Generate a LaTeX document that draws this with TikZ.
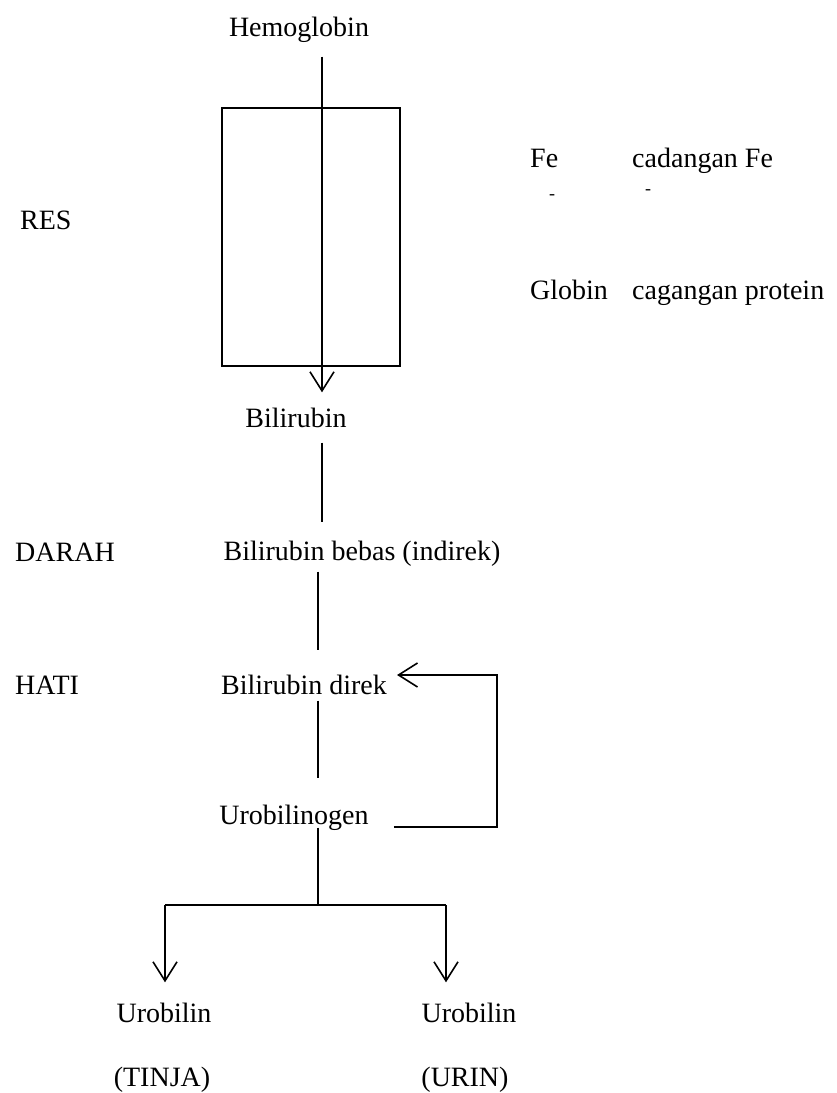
\documentclass[tikz,border=0pt]{standalone}
\usepackage{fontspec}
\setmainfont{Liberation Serif}
\usetikzlibrary{arrows.meta}
\begin{document}
\begin{tikzpicture}[x=1pt,y=-1pt,>={Straight Barb[length=19pt,width=24pt]},
   lbl/.style={inner sep=0pt,text height=22pt,text depth=3pt,font=\fontsize{28}{30}\selectfont},
   ln/.style={line width=1.6pt}]
   \useasboundingbox (0,0) rectangle (837,1093);
   \coordinate (spine) at (322,0);
   \coordinate (spine2) at (318,0);
   \coordinate (loop) at (497,0);
   %left labels
   \node[lbl,anchor=west] (res) at (20,220) {RES};
   \node[lbl,anchor=west] (darah) at (15,552) {DARAH};
   \node[lbl,anchor=west] (hati) at (15,685) {HATI};
   %right labels
   \node[lbl,anchor=west] (fe) at (530,158) {Fe};
   \node[lbl,anchor=west] (cadfe) at (632,158) {cadangan Fe};
   \node[inner sep=0pt,font=\fontsize{18}{18}\selectfont] (dash1) at (552,197) {-};
   \node[inner sep=0pt,font=\fontsize{18}{18}\selectfont] (dash2) at (648,192) {-};
   \node[lbl,anchor=west] (globin) at (530,290) {Globin};
   \node[lbl,anchor=west] (cadprot) at (632,290) {cagangan protein};
   %main chain
   \node[lbl] (hb) at (299,27) {Hemoglobin};
   \node[draw,ln,minimum width=178pt,minimum height=258pt] (resbox) at (311,237) {};
   \node[lbl] (bil) at (296,418) {Bilirubin};
   \node[lbl] (bebas) at (362,551) {Bilirubin bebas (indirek)};
   \node[lbl] (direk) at (304,685) {Bilirubin direk};
   \node[lbl] (uro) at (294,815) {Urobilinogen};
   \node[lbl] (tinja1) at (164,1013) {Urobilin};
   \node[lbl] (tinja) at (162,1077) {(TINJA)};
   \node[lbl] (urin1) at (469,1013) {Urobilin};
   \node[lbl] (urin) at (465,1077) {(URIN)};
   %connectors
   \draw[ln,->,shorten <=17pt,shorten >=13pt] (hb.south -| spine) -- (bil.north -| spine);
   \draw[ln,shorten <=12pt,shorten >=16pt] (bil.south -| spine) -- (bebas.north -| spine);
   \draw[ln,shorten <=8pt,shorten >=22pt] (bebas.south -| spine2) -- (direk.north -| spine2);
   \draw[ln,shorten <=3pt,shorten >=24pt] (direk.south -| spine2) -- (uro.north -| spine2);
   %loop back
   \draw[ln,->,shorten <=25pt,shorten >=10pt] ([yshift=-12pt]uro.east) -| ([yshift=10pt]direk.east -| loop) -- ([yshift=10pt]direk.east);
   %split
   \coordinate (split) at (318,905);
   \coordinate (L) at (165,905);
   \coordinate (R) at (446,905);
   \draw[ln] (uro.south -| spine2) -- (split);
   \draw[ln] (L) -- (R);
   \draw[ln,->,shorten >=18pt] (L) -- (L |- tinja1.north);
   \draw[ln,->,shorten >=18pt] (R) -- (R |- urin1.north);
\end{tikzpicture}
\end{document}
